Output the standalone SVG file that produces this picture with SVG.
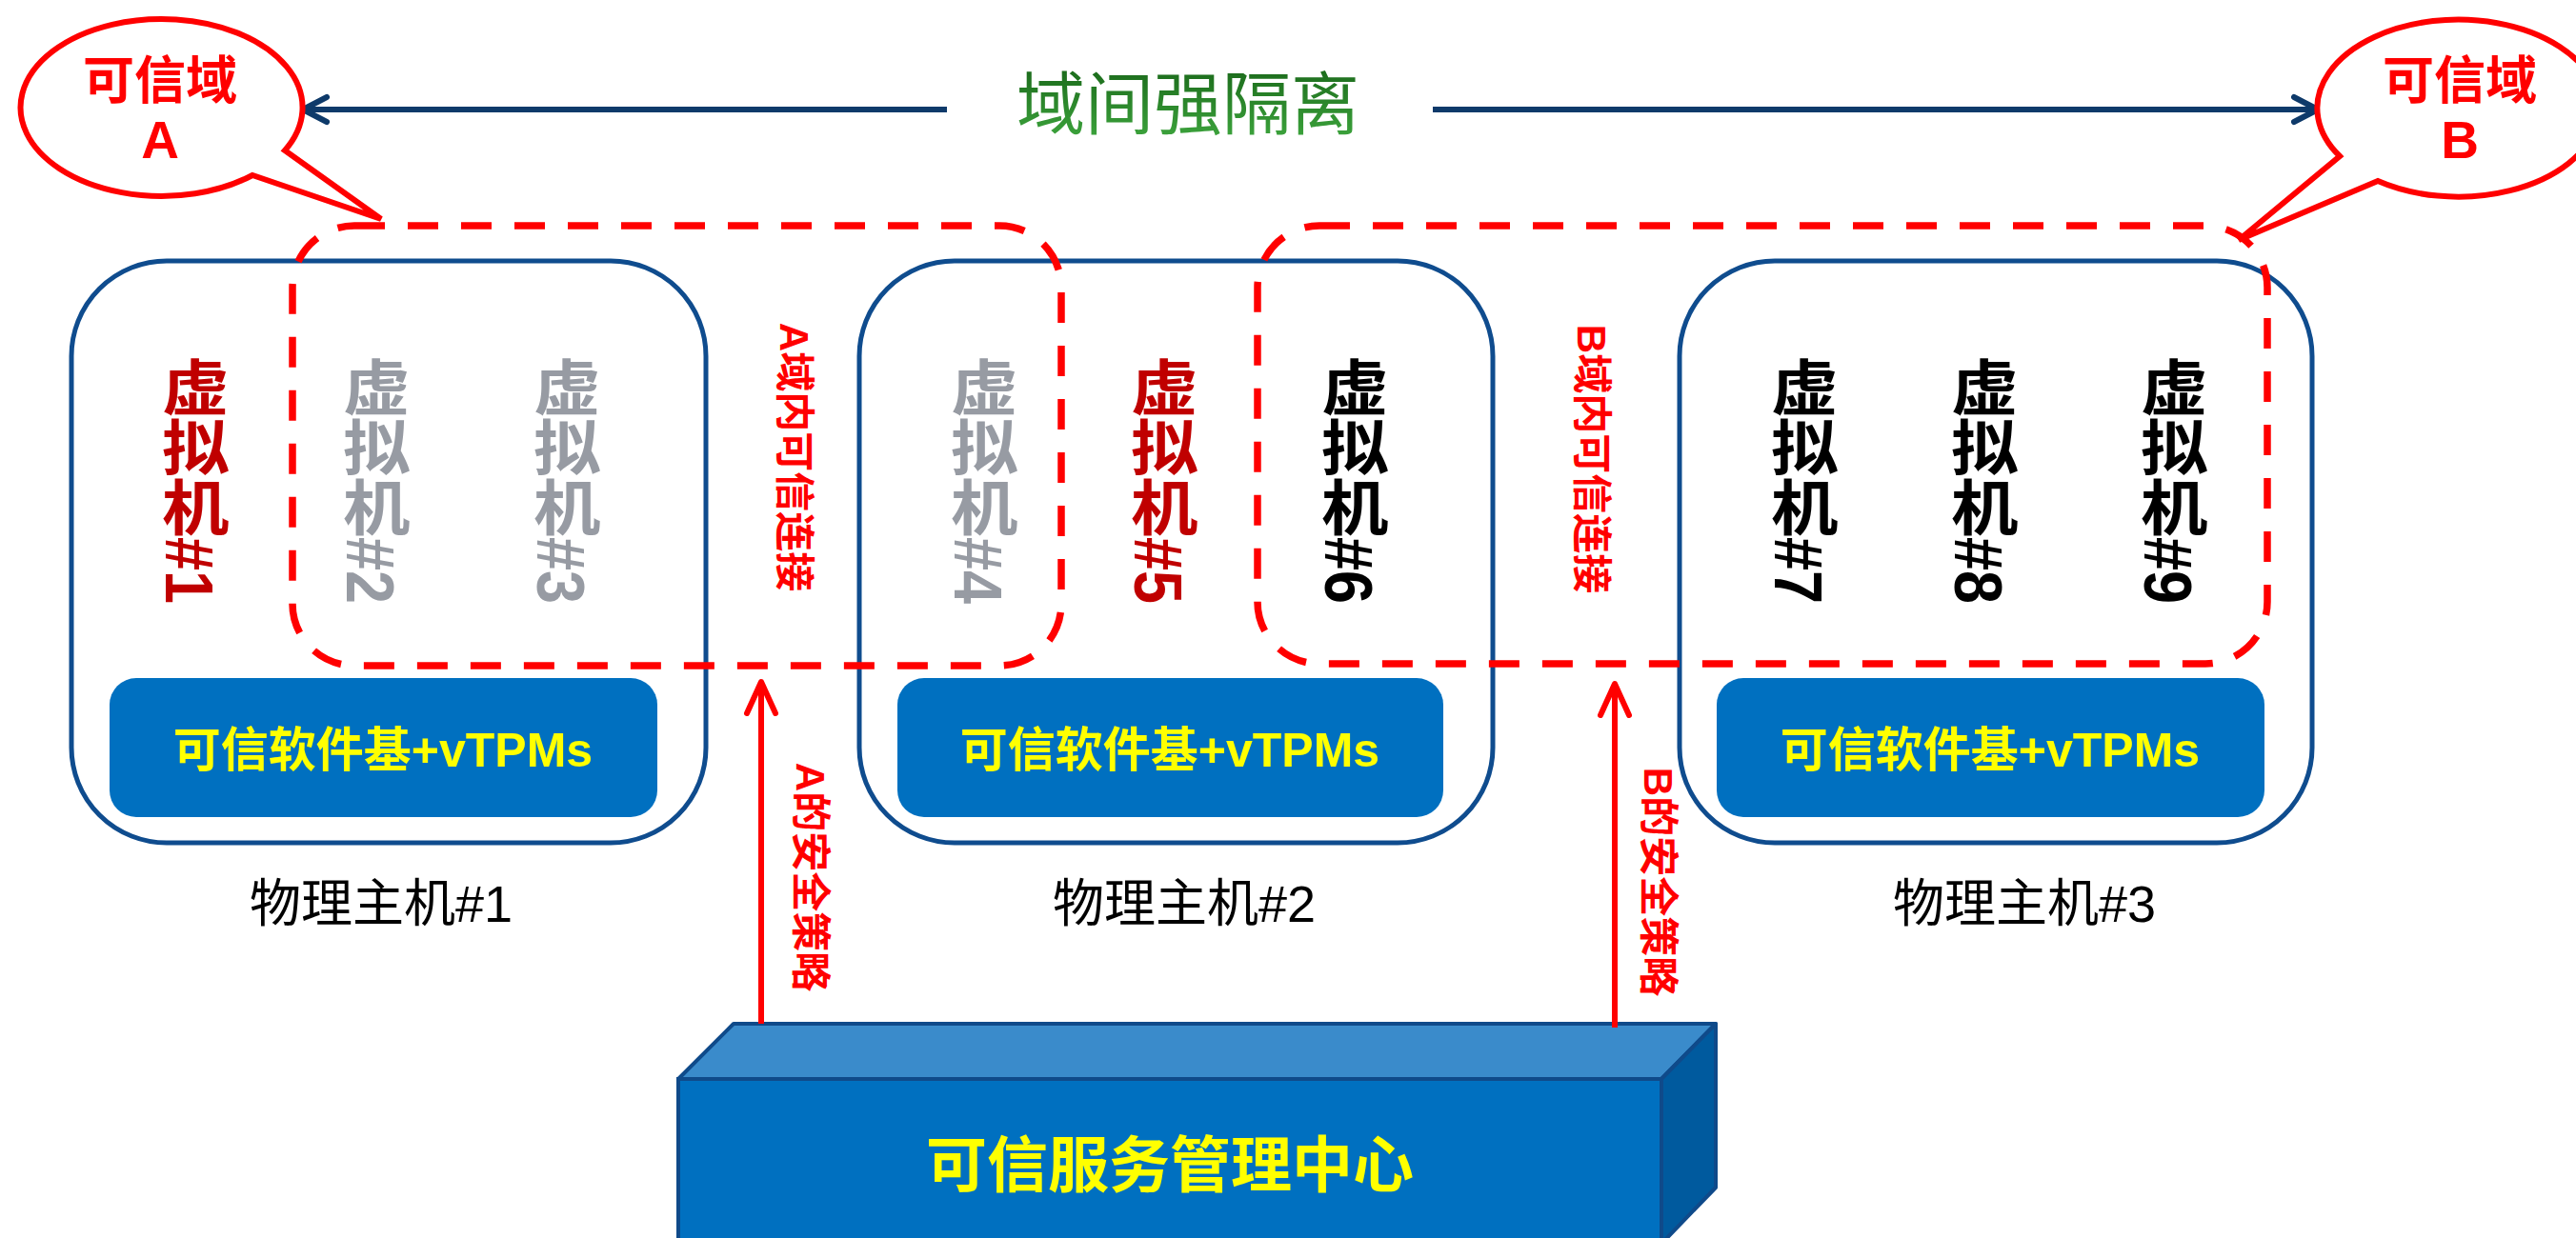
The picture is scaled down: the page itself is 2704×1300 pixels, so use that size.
<svg xmlns="http://www.w3.org/2000/svg" width="2704" height="1300" viewBox="0 0 2704 1300">
<defs>
<style>
.host{fill:#fff;stroke:#0F4C8E;stroke-width:5}
.tcb{fill:#0070C0}
.tcbt{font-family:'Liberation Sans','Noto Sans CJK SC',sans-serif;font-weight:bold;font-size:50px;fill:#FFFF00;text-anchor:middle}
.vm{font-family:'Liberation Sans','Noto Sans CJK SC',sans-serif;font-weight:bold;font-size:63px;writing-mode:vertical-rl}
.red{fill:#C00000}.gray{fill:#979BA3}.blk{fill:#000}
.dom{fill:none;stroke:#FF0000;stroke-width:7.5;stroke-dasharray:32 24}
.lbl{font-family:'Liberation Sans','Noto Sans CJK SC',sans-serif;font-size:54px;fill:#000;text-anchor:middle}
.rot{font-family:'Liberation Sans','Noto Sans CJK SC',sans-serif;font-weight:bold;font-size:42px;fill:#FF0000;text-anchor:middle;dominant-baseline:central}
.callout{fill:#fff;stroke:#FF0000;stroke-width:6;stroke-linejoin:miter}
.ct{font-family:'Liberation Sans','Noto Sans CJK SC',sans-serif;font-weight:bold;fill:#FF0000;text-anchor:middle}
.navy{stroke:#0E3A6A;stroke-width:6;fill:none}
.redarrow{stroke:#FF0000;stroke-width:6;fill:none}
</style>
<linearGradient id="gtitle" x1="0" y1="0" x2="0" y2="1">
<stop offset="0" stop-color="#1B6A1B"/>
<stop offset="1" stop-color="#3FA83F"/>
</linearGradient>
<marker id="navyHead" markerUnits="userSpaceOnUse" viewBox="-4 -4 34 34" refX="25" refY="13" markerWidth="34" markerHeight="34" orient="auto">
<path d="M0,0 L25,13 L0,26" fill="none" stroke="#0E3A6A" stroke-width="6" stroke-linecap="round" stroke-linejoin="round"/>
</marker>
<marker id="redHead" markerUnits="userSpaceOnUse" viewBox="-4 -4 42 40" refX="33" refY="15" markerWidth="42" markerHeight="40" orient="auto">
<path d="M0,0 L33,15 L0,30" fill="none" stroke="#FF0000" stroke-width="6" stroke-linecap="round" stroke-linejoin="round"/>
</marker>
</defs>
<rect width="2704" height="1300" fill="#fff"/>

<g id="host1">
<rect class="host" x="75" y="274" width="666" height="611" rx="100"/>
<rect class="tcb" x="115" y="712" width="575" height="146" rx="28"/>
<text class="tcbt" x="402" y="805">可信软件基+vTPMs</text>
<text class="lbl" x="400" y="968">物理主机#1</text>
</g>
<g id="host2">
<rect class="host" x="902" y="274" width="665" height="611" rx="100"/>
<rect class="tcb" x="942" y="712" width="573" height="146" rx="28"/>
<text class="tcbt" x="1228" y="805">可信软件基+vTPMs</text>
<text class="lbl" x="1243" y="968">物理主机#2</text>
</g>
<g id="host3">
<rect class="host" x="1763" y="274" width="664" height="611" rx="100"/>
<rect class="tcb" x="1802" y="712" width="575" height="146" rx="28"/>
<text class="tcbt" x="2089" y="805">可信软件基+vTPMs</text>
<text class="lbl" x="2125" y="968">物理主机#3</text>
</g>

<g id="vms">
<text id="vm1" class="vm red" transform="translate(199,0) scale(1.12,1)" x="0" y="375">虚拟机#1</text>
<text id="vm2" class="vm gray" transform="translate(389,0) scale(1.12,1)" x="0" y="375">虚拟机#2</text>
<text id="vm3" class="vm gray" transform="translate(589,0) scale(1.12,1)" x="0" y="375">虚拟机#3</text>
<text id="vm4" class="vm gray" transform="translate(1027,0) scale(1.12,1)" x="0" y="375">虚拟机#4</text>
<text id="vm5" class="vm red" transform="translate(1216,0) scale(1.12,1)" x="0" y="375">虚拟机#5</text>
<text id="vm6" class="vm blk" transform="translate(1416,0) scale(1.12,1)" x="0" y="375">虚拟机#6</text>
<text id="vm7" class="vm blk" transform="translate(1888,0) scale(1.12,1)" x="0" y="375">虚拟机#7</text>
<text id="vm8" class="vm blk" transform="translate(2077,0) scale(1.12,1)" x="0" y="375">虚拟机#8</text>
<text id="vm9" class="vm blk" transform="translate(2276,0) scale(1.12,1)" x="0" y="375">虚拟机#9</text>
</g>

<g id="domainA">
<rect class="dom" x="307" y="237" width="807" height="462" rx="65"/>
</g>
<g id="domainB">
<rect class="dom" x="1320" y="237" width="1060" height="460" rx="65"/>
</g>

<g id="center">
<polygon points="712,1133 770,1075 1801,1075 1744,1133" fill="#3A8BCB" stroke="#0F4A8A" stroke-width="4" stroke-linejoin="round"/>
<polygon points="1744,1133 1801,1075 1801,1247 1744,1306" fill="#005A9E" stroke="#0F4A8A" stroke-width="4" stroke-linejoin="round"/>
<rect x="712" y="1133" width="1032" height="175" fill="#0070C0" stroke="#0F4A8A" stroke-width="4"/>
<text x="1228" y="1246" font-family="'Liberation Sans','Noto Sans CJK SC',sans-serif" font-weight="bold" font-size="64" fill="#FFFF00" text-anchor="middle">可信服务管理中心</text>
</g>

<g id="connectors">
<path class="navy" d="M994,115 L318,115" marker-end="url(#navyHead)"/>
<path class="navy" d="M1504,115 L2433,115" marker-end="url(#navyHead)"/>
<path class="redarrow" d="M799,1075 L799,716" marker-end="url(#redHead)"/>
<path class="redarrow" d="M1695,1079 L1695,718" marker-end="url(#redHead)"/>
</g>

<g id="labels">
<text class="rot" transform="translate(833,480) rotate(90)">A域内可信连接</text>
<text class="rot" transform="translate(850,921) rotate(90)">A的安全策略</text>
<text class="rot" transform="translate(1670,482) rotate(90)">B域内可信连接</text>
<text class="rot" transform="translate(1740,926) rotate(90)">B的安全策略</text>
</g>

<g id="title">
<text x="1247" y="135" font-family="'Liberation Serif','Noto Sans CJK SC',serif" font-size="72" fill="url(#gtitle)" text-anchor="middle">域间强隔离</text>
</g>

<g id="calloutA">
<path class="callout" d="M299,158 A148,93 0 1 0 265,184 L400,230 Z"/>
<text class="ct" x="168" y="104" font-size="54">可信域</text>
<text class="ct" x="168" y="166" font-size="55">A</text>
</g>
<g id="calloutB">
<path class="callout" d="M2456,164 A148,93 0 1 1 2496,190 L2350,252 Z"/>
<text class="ct" x="2582" y="104" font-size="54">可信域</text>
<text class="ct" x="2582" y="166" font-size="55">B</text>
</g>
</svg>
